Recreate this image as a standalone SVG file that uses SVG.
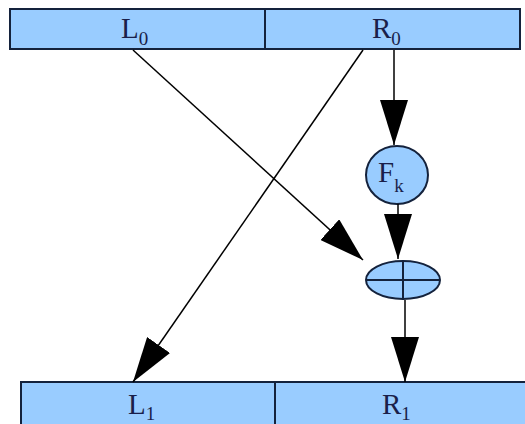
<svg xmlns="http://www.w3.org/2000/svg" width="525" height="424" viewBox="0 0 525 424">
<style>
.box{fill:#99ccff;stroke:#14223c;stroke-width:2}
.node{fill:#99ccff;stroke:#14223c;stroke-width:2}
.lbl{font-family:"Liberation Serif",serif;font-size:29px;fill:#1a1f4a}
.sub{font-size:19px}
.con{stroke:#000;stroke-width:1.5;fill:none;marker-end:url(#ah)}
</style>
<defs>
<marker id="ah" viewBox="0 0 45 28" refX="45" refY="14" markerWidth="45" markerHeight="28" markerUnits="userSpaceOnUse" orient="auto">
<path d="M0,0 L45,14 L0,28 z" fill="#000"/>
</marker>
</defs>
<rect width="525" height="424" fill="#fff"/>
<g id="top">
<rect class="box" x="10" y="9" width="255" height="40"/>
<rect class="box" x="265" y="9" width="255" height="40"/>
<text class="lbl" x="121" y="38">L<tspan class="sub" dy="7">0</tspan></text>
<text class="lbl" x="372" y="38">R<tspan class="sub" dy="7">0</tspan></text>
</g>
<g id="bottom">
<rect class="box" x="21" y="382" width="254" height="50"/>
<rect class="box" x="275" y="382" width="260" height="50"/>
<text class="lbl" x="128" y="414">L<tspan class="sub" dy="6">1</tspan></text>
<text class="lbl" x="382" y="414">R<tspan class="sub" dy="6">1</tspan></text>
</g>
<g id="fk">
<ellipse class="node" cx="397" cy="175" rx="31" ry="29"/>
<text class="lbl" x="378" y="182">F<tspan class="sub" dy="10">k</tspan></text>
</g>
<g id="xor">
<ellipse class="node" cx="403" cy="280" rx="37" ry="19"/>
<line x1="366" y1="280" x2="440" y2="280" stroke="#14223c" stroke-width="2"/>
<line x1="403" y1="261" x2="403" y2="299" stroke="#14223c" stroke-width="2"/>
</g>
<g id="connectors">
<line class="con" x1="394" y1="50" x2="394" y2="145"/>
<line class="con" x1="398" y1="204" x2="398" y2="259"/>
<line class="con" x1="405" y1="300" x2="405" y2="382"/>
<line class="con" x1="133" y1="50" x2="363" y2="260"/>
<line class="con" x1="363" y1="50" x2="133" y2="382"/>
</g>
</svg>
